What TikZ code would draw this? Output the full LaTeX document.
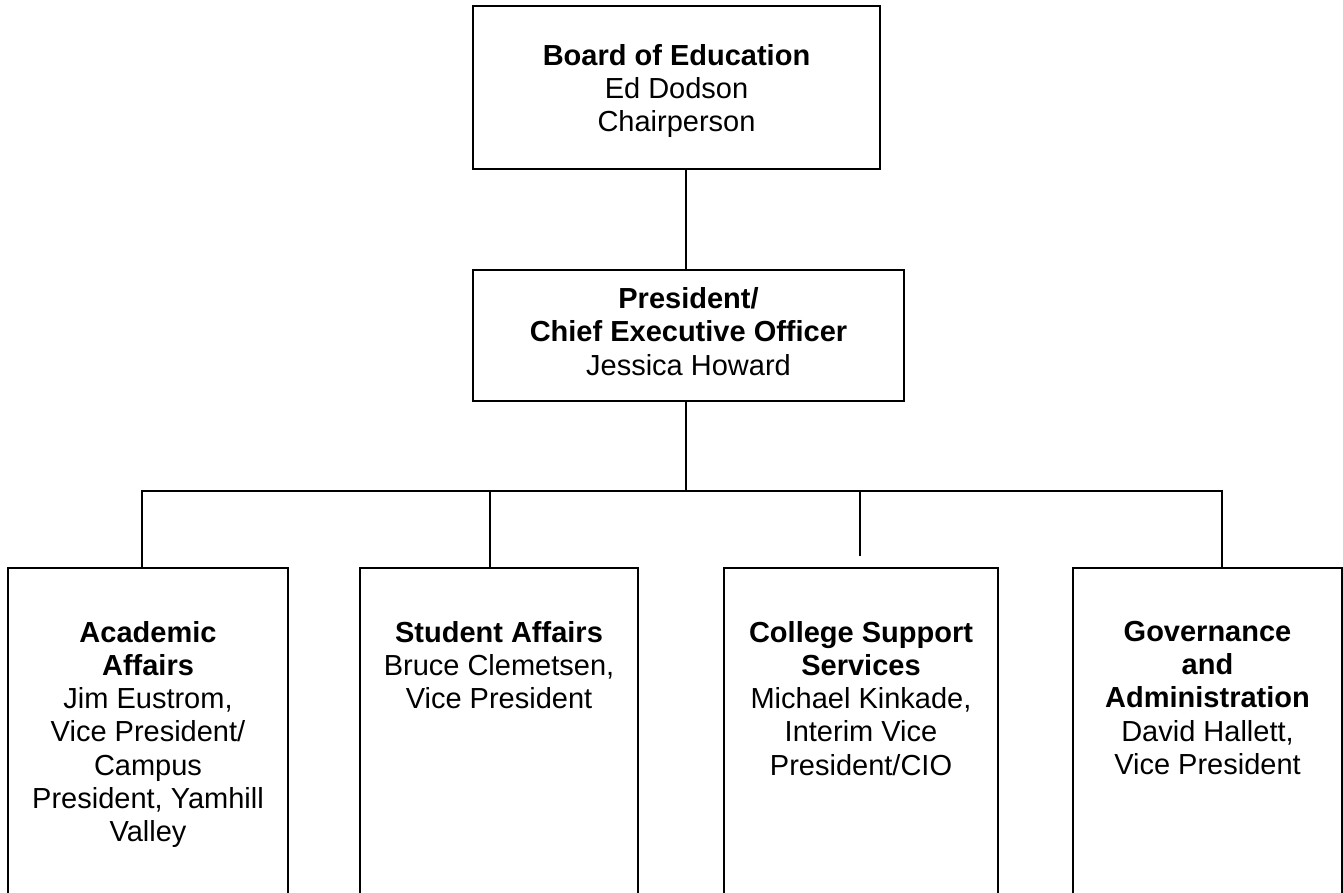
\documentclass[tikz,border=0pt]{standalone}
\usepackage{fontspec}
\setmainfont{Liberation Sans}
\usetikzlibrary{positioning}
\tikzset{
    office/.style={
    rectangle,draw=black,line width=2pt,inner sep=0pt,outer sep=0pt
    },
    unit/.style={
    rectangle,draw=black,line width=2pt,anchor=north,outer sep=0pt,minimum height=400pt
    },
    boxlabel/.style={
    align=center,inner sep=0pt,outer sep=0pt,font=\fontsize{29}{33.3}\selectfont
    },
    link/.style={
    draw=black,line width=2pt
    },
}
\begin{document}
\begin{tikzpicture}[x=1pt,y=-1pt]
   \path[use as bounding box,clip] (0,0) rectangle (1343,892);
   \node[office,minimum width=407pt,minimum height=163pt] (board) at (676.5,87.5) {};
   \node[office,minimum width=431pt,minimum height=131pt] (pres) at (688.5,335.5) {};
   \node[boxlabel,below=38pt of board.north] (boardtext) {\textbf{Board of Education}\\Ed Dodson\\Chairperson};
   \node[boxlabel,below=17.5pt of pres.north] (prestext) {\textbf{President/}\\\textbf{Chief Executive Officer}\\Jessica Howard};

   \node[unit,minimum width=280pt] (acad) at (148,568) {};
   \node[unit,minimum width=278pt] (stud) at (499,568) {};
   \node[unit,minimum width=274pt] (coll) at (861,568) {};
   \node[unit,minimum width=269pt] (gov) at (1207.5,568) {};

   \node[boxlabel,below=53pt of acad.north] (acadtext) {\textbf{Academic}\\\textbf{Affairs}\\Jim Eustrom,\\Vice President/\\Campus\\President, Yamhill\\Valley};
   \node[boxlabel,below=53pt of stud.north] (studtext) {\textbf{Student Affairs}\\Bruce Clemetsen,\\Vice President};
   \node[boxlabel,below=53pt of coll.north] (colltext) {\textbf{College Support}\\\textbf{Services}\\Michael Kinkade,\\Interim Vice\\President/CIO};
   \node[boxlabel,below=53pt of gov.north] (govtext) {\textbf{Governance}\\\textbf{and}\\\textbf{Administration}\\David Hallett,\\Vice President};

   \coordinate (hub) at (686,491);
   \coordinate (dropA) at (142,491);
   \coordinate (dropS) at (490,491);
   \coordinate (dropC) at (860,491);
   \coordinate (dropG) at (1222,491);
   \coordinate (endC) at (860,556);

  \path[link]
    (hub |- board.south) -- (hub |- pres.north)
    (hub |- pres.south) -- (hub)
    (dropA |- acad.north) -- (dropA) -- (dropG) -- (dropG |- gov.north)
    (dropS) -- (dropS |- stud.north)
    (dropC) -- (endC);
\end{tikzpicture}
\end{document}
